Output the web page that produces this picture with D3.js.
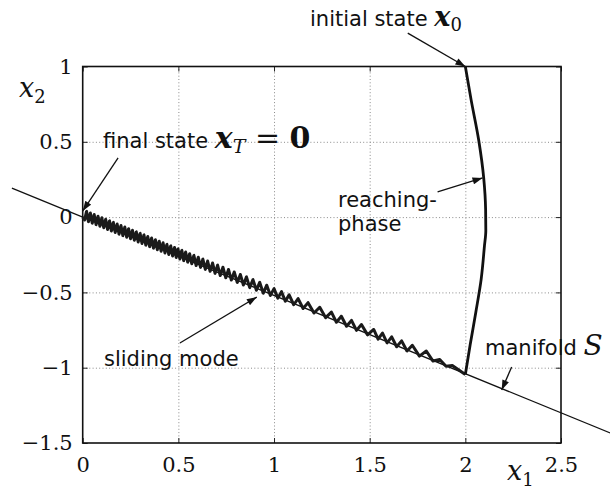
<!DOCTYPE html>
<html>
<head>
<meta charset="utf-8">
<script src="https://cdn.jsdelivr.net/npm/d3@7"></script>
<style>
  body { margin: 0; background: #fff; }
  .tick text { font-family: "DejaVu Serif", serif; font-size: 21px; fill: #111; }
  .grid line { stroke: #8a8a8a; stroke-width: 1; stroke-dasharray: 1,2.3; }
  .note { font-family: "DejaVu Sans", sans-serif; font-size: 21px; fill: #111; }
</style>
</head>
<body>
<div id="chart"></div>
<script>
// setup canvas parameter
var width = 610, height = 490;
var plot = {left: 82.7, right: 561, top: 66.5, bottom: 443};

// tick values
var xTicks = [0, 0.5, 1, 1.5, 2, 2.5];
var yTicks = [-1.5, -1, -0.5, 0, 0.5, 1];

// manifold S (a straight line through the origin)
var manifoldX1 = [-0.37, 2.76];
var manifoldX2 = [0.192, -1.435];

// reaching phase, from x0 down to the manifold
var reachX1 = [2.0, 2.03, 2.07, 2.096, 2.106, 2.107, 2.10, 2.083, 2.055, 2.025, 2.0];
var reachX2 = [1.0, 0.78, 0.51, 0.26, 0.05, -0.09, -0.19, -0.41, -0.63, -0.85, -1.045];

// sliding mode, chattering along the manifold back to the origin
var slideX1 = [2.000, 1.932, 1.899, 1.866, 1.831, 1.796, 1.760, 1.723, 1.695, 1.667, 1.641,
  1.615, 1.591, 1.567, 1.544, 1.521, 1.489, 1.457, 1.431, 1.405, 1.379, 1.352, 1.326,
  1.300, 1.270, 1.239, 1.209, 1.178, 1.152, 1.126, 1.103, 1.079, 1.059, 1.039, 1.020,
  1.000, 0.981, 0.962, 0.944, 0.925, 0.908, 0.890, 0.873, 0.856, 0.840, 0.824, 0.808,
  0.792, 0.777, 0.762, 0.748, 0.733, 0.719, 0.705, 0.692, 0.679, 0.666, 0.653, 0.641,
  0.628, 0.616, 0.604, 0.593, 0.581, 0.570, 0.559, 0.549, 0.538, 0.528, 0.518, 0.508,
  0.498, 0.489, 0.48, 0.47, 0.46, 0.45, 0.44, 0.43, 0.42, 0.41, 0.40, 0.39, 0.38, 0.37,
  0.36, 0.35, 0.34, 0.33, 0.32, 0.31, 0.30, 0.29, 0.28, 0.27, 0.26, 0.25, 0.24, 0.23,
  0.22, 0.21, 0.20, 0.19, 0.18, 0.17, 0.16, 0.15, 0.14, 0.13, 0.12, 0.11, 0.10, 0.09,
  0.08, 0.07, 0.06, 0.05, 0.04, 0.03, 0.02, 0.01, 0.0];
var slideX2 = [-1.045, -0.985, -0.991, -0.945, -0.956, -0.889, -0.923, -0.851, -0.889, -0.822, -0.861,
  -0.795, -0.835, -0.770, -0.811, -0.746, -0.782, -0.713, -0.752, -0.686, -0.725, -0.658, -0.698,
  -0.631, -0.668, -0.599, -0.637, -0.568, -0.607, -0.541, -0.582, -0.516, -0.559, -0.495, -0.538,
  -0.475, -0.520, -0.452, -0.505, -0.433, -0.486, -0.415, -0.468, -0.397, -0.451, -0.381, -0.434,
  -0.364, -0.418, -0.348, -0.403, -0.333, -0.388, -0.319, -0.374, -0.305, -0.360, -0.292, -0.347,
  -0.279, -0.334, -0.266, -0.322, -0.254, -0.310, -0.243, -0.299, -0.232, -0.289, -0.221, -0.278,
  -0.211, -0.268, -0.202, -0.258, -0.191, -0.248, -0.181, -0.238, -0.170, -0.227, -0.160, -0.217, -0.150, -0.206,
  -0.139, -0.196, -0.129, -0.186, -0.118, -0.175, -0.108, -0.165, -0.098, -0.154, -0.087, -0.144, -0.077, -0.134,
  -0.066, -0.123, -0.056, -0.113, -0.046, -0.102, -0.035, -0.092, -0.025, -0.082, -0.014, -0.071, -0.004, -0.061,
  0.006, -0.050, 0.017, -0.040, 0.027, -0.030, 0.038, -0.019, 0.0];

// annotation arrows (tail -> tip, data units)
var arrowFrom = [[1.699, 1.222], [0.185, 0.393], [1.855, 0.167], [0.508, -0.836], [2.242, -0.995]];
var arrowTo   = [[2.0, 1.0], [0.0, 0.04], [2.09, 0.26], [0.910, -0.531], [2.19, -1.148]];

var svg = d3.select('#chart')
    .append('svg')
    .attr('width', width)
    .attr('height', height);

var defs = svg.append('defs');
defs.append('marker')
    .attr('id', 'head')
    .attr('markerUnits', 'userSpaceOnUse')
    .attr('viewBox', '0 0 10 7')
    .attr('refX', 10).attr('refY', 3.5)
    .attr('markerWidth', 11).attr('markerHeight', 7)
    .attr('orient', 'auto')
    .append('path')
    .attr('d', 'M0,0 L10,3.5 L0,7 z')
    .attr('fill', '#111');

var xScale = d3.scaleLinear().domain([0, 2.5]).range([plot.left, plot.right]);
var yScale = d3.scaleLinear().domain([-1.5, 1]).range([plot.bottom, plot.top]);

var fmt = function(d){ return (d < 0 ? '\u2212' : '') + Math.abs(d); };

// grid
svg.append('g')
    .attr('class', 'grid')
    .attr('transform', 'translate(0,' + plot.bottom + ')')
    .call(d3.axisBottom(xScale).tickValues(xTicks.slice(1, -1))
        .tickSize(-(plot.bottom - plot.top)).tickFormat(''))
    .call(function(g){ g.select('.domain').remove(); });
svg.append('g')
    .attr('class', 'grid')
    .attr('transform', 'translate(' + plot.left + ',0)')
    .call(d3.axisLeft(yScale).tickValues(yTicks.slice(1, -1))
        .tickSize(-(plot.right - plot.left)).tickFormat(''))
    .call(function(g){ g.select('.domain').remove(); });

// axes with inward ticks
function axisStyle(g){
    g.select('.domain').remove();
    g.selectAll('.tick line').attr('stroke', '#222').attr('stroke-width', 1);
}
svg.append('g')
    .attr('transform', 'translate(0,' + plot.bottom + ')')
    .call(d3.axisBottom(xScale).tickValues(xTicks).tickSize(-5).tickPadding(14).tickFormat(fmt))
    .call(axisStyle);
svg.append('g')
    .attr('transform', 'translate(0,' + plot.top + ')')
    .call(d3.axisTop(xScale).tickValues(xTicks).tickSize(-5).tickFormat(''))
    .call(axisStyle);
svg.append('g')
    .attr('transform', 'translate(' + plot.left + ',0)')
    .call(d3.axisLeft(yScale).tickValues(yTicks).tickSize(-5).tickPadding(10).tickFormat(fmt))
    .call(axisStyle);
svg.append('g')
    .attr('transform', 'translate(' + plot.right + ',0)')
    .call(d3.axisRight(yScale).tickValues(yTicks).tickSize(-5).tickFormat(''))
    .call(axisStyle);

svg.selectAll('.tick text').attr('fill', '#111');

// box
svg.append('rect')
    .attr('x', plot.left).attr('y', plot.top)
    .attr('width', plot.right - plot.left)
    .attr('height', plot.bottom - plot.top)
    .attr('fill', 'none')
    .attr('stroke', '#111')
    .attr('stroke-width', 1.6);

var line = d3.line()
    .x(function(d){ return xScale(d[0]); })
    .y(function(d){ return yScale(d[1]); });

// manifold
svg.append('path')
    .datum(d3.zip(manifoldX1, manifoldX2))
    .attr('d', line)
    .attr('fill', 'none')
    .attr('stroke', '#111')
    .attr('stroke-width', 1.3);

// sliding mode
svg.append('path')
    .datum(d3.zip(slideX1, slideX2))
    .attr('d', line)
    .attr('fill', 'none')
    .attr('stroke', '#1a1a1a')
    .attr('stroke-width', 3)
    .attr('stroke-linejoin', 'round');

// reaching phase
svg.append('path')
    .datum(d3.zip(reachX1, reachX2))
    .attr('d', d3.line()
        .x(function(d){ return xScale(d[0]); })
        .y(function(d){ return yScale(d[1]); })
        .curve(d3.curveMonotoneY))
    .attr('fill', 'none')
    .attr('stroke', '#111')
    .attr('stroke-width', 2.8);

// arrows
svg.selectAll('.arrow')
    .data(d3.zip(arrowFrom, arrowTo))
    .enter()
    .append('line')
    .attr('class', 'arrow')
    .attr('x1', function(d){ return xScale(d[0][0]); })
    .attr('y1', function(d){ return yScale(d[0][1]); })
    .attr('x2', function(d){ return xScale(d[1][0]); })
    .attr('y2', function(d){ return yScale(d[1][1]); })
    .attr('stroke', '#111')
    .attr('stroke-width', 1.3)
    .attr('marker-end', 'url(#head)');

// annotations
var t;
t = svg.append('text').attr('class', 'note').attr('x', 310).attr('y', 26);
t.append('tspan').text('initial state ');
t.append('tspan').style('font-family', 'DejaVu Serif').style('font-weight', 'bold')
    .style('font-style', 'italic').style('font-size', '27px').text('x');
t.append('tspan').style('font-family', 'DejaVu Serif').style('font-size', '18px')
    .attr('dy', 5).text('0');

t = svg.append('text').attr('class', 'note').attr('x', 103).attr('y', 148);
t.append('tspan').text('final state ');
t.append('tspan').style('font-family', 'DejaVu Serif').style('font-weight', 'bold')
    .style('font-style', 'italic').style('font-size', '30px').text('x');
t.append('tspan').style('font-family', 'DejaVu Serif').style('font-style', 'italic')
    .style('font-size', '19px').attr('dy', 5).text('T');
t.append('tspan').style('font-family', 'DejaVu Serif').style('font-size', '30px')
    .attr('dy', -5).text(' = ');
t.append('tspan').style('font-family', 'DejaVu Serif').style('font-weight', 'bold')
    .style('font-size', '30px').text('0');

svg.append('text').attr('class', 'note').attr('x', 338).attr('y', 207).text('reaching-');
svg.append('text').attr('class', 'note').attr('x', 338).attr('y', 231).text('phase');
svg.append('text').attr('class', 'note').attr('x', 104).attr('y', 366).text('sliding mode');

t = svg.append('text').attr('class', 'note').attr('x', 485).attr('y', 355);
t.append('tspan').text('manifold ');
t.append('tspan').style('font-family', 'DejaVu Serif').style('font-style', 'italic')
    .style('font-size', '28px').text('S');

// axis labels
t = svg.append('text').attr('x', 19).attr('y', 97)
    .style('font-family', 'DejaVu Serif').style('font-size', '27px').attr('fill', '#111');
t.append('tspan').style('font-style', 'italic').text('x');
t.append('tspan').style('font-size', '18px').attr('dy', 6).text('2');

t = svg.append('text').attr('x', 507).attr('y', 480)
    .style('font-family', 'DejaVu Serif').style('font-size', '27px').attr('fill', '#111');
t.append('tspan').style('font-style', 'italic').text('x');
t.append('tspan').style('font-size', '18px').attr('dy', 6).text('1');
</script>
</body>
</html>
